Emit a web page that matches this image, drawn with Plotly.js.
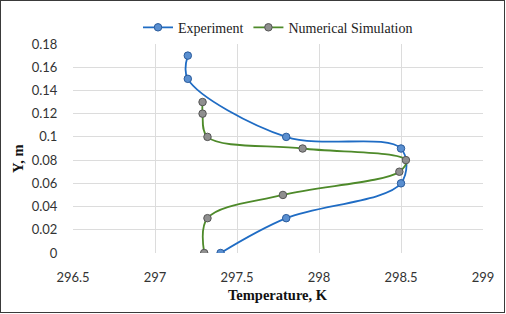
<!DOCTYPE html>
<html>
<head>
<meta charset="utf-8">
<script src="https://cdn.plot.ly/plotly-3.0.1.min.js"></script>
<style>
html,body{margin:0;padding:0;background:#fff;}
#wrap{position:relative;width:506px;height:314px;}
#chart{position:absolute;left:0;top:0;width:506px;height:314px;}
#frame{position:absolute;left:0;top:0;width:505px;height:313px;box-sizing:border-box;border:1px solid #3a3a3a;pointer-events:none;}
</style>
</head>
<body>
<div id="wrap"><div id="chart"></div><div id="frame"></div></div>
<script>
// Experiment series
var expT = [297.2, 297.2, 297.8, 298.5, 298.5, 297.8, 297.4];
var expY = [0.17, 0.15, 0.10, 0.09, 0.06, 0.03, 0];
// Numerical simulation series
var simT = [297.29, 297.29, 297.32, 297.9, 298.53, 298.49, 297.78, 297.32, 297.30];
var simY = [0.13, 0.12, 0.10, 0.09, 0.08, 0.07, 0.05, 0.03, 0];
// Axis ticks
var xTicks = [296.5, 297, 297.5, 298, 298.5, 299];
var yTicks = [0, 0.02, 0.04, 0.06, 0.08, 0.1, 0.12, 0.14, 0.16, 0.18];
var xTickText = ['296.5', '297', '297.5', '298', '298.5', '299'];
var yTickText = ['0', '0.02', '0.04', '0.06', '0.08', '0.1', '0.12', '0.14', '0.16', '0.18'];

var traces = [
  {
    x: expT, y: expY, name: 'Experiment', type: 'scatter', mode: 'lines+markers',
    line: {color: '#1f6cc4', width: 1.8, shape: 'spline', smoothing: 1},
    marker: {symbol: 'circle', size: 7.5, color: '#5a8fd0', line: {color: '#2a5b9c', width: 1}}
  },
  {
    x: simT, y: simY, name: 'Numerical Simulation', type: 'scatter', mode: 'lines+markers',
    line: {color: '#4e8a2a', width: 1.8, shape: 'spline', smoothing: 1},
    marker: {symbol: 'circle', size: 7.5, color: '#8f8f8f', line: {color: '#555555', width: 1}}
  }
];

var layout = {
  width: 506, height: 314,
  margin: {l: 73, r: 23, t: 34, b: 61},
  paper_bgcolor: '#ffffff', plot_bgcolor: '#ffffff',
  showlegend: true,
  legend: {
    orientation: 'h', x: 0.5, xanchor: 'center', y: 1.078, yanchor: 'middle',
    font: {family: 'Liberation Serif, Times New Roman, serif', size: 14, color: '#222'},
    itemwidth: 30, traceorder: 'normal'
  },
  xaxis: {
    range: [296.5, 299], tickvals: xTicks, ticktext: xTickText,
    showgrid: true, gridcolor: '#dcdcdc', gridwidth: 1, zeroline: false, showline: false,
    ticks: 'outside', ticklen: 12, tickcolor: 'rgba(0,0,0,0)',
    tickfont: {family: 'Lato, Open Sans, sans-serif', size: 13, color: '#333'},
    fixedrange: true
  },
  yaxis: {
    range: [0, 0.18], tickvals: yTicks, ticktext: yTickText,
    showgrid: true, gridcolor: '#dcdcdc', gridwidth: 1, zeroline: false, showline: false,
    ticks: 'outside', ticklen: 12, tickcolor: 'rgba(0,0,0,0)',
    tickfont: {family: 'Lato, Open Sans, sans-serif', size: 13, color: '#333'},
    fixedrange: true
  },
  annotations: [
    {text: '<b>Temperature, K</b>', xref: 'paper', yref: 'paper', x: 0.5, y: -0.2,
     xanchor: 'center', yanchor: 'middle', showarrow: false,
     font: {family: 'Liberation Serif, Times New Roman, serif', size: 14.5, color: '#111'}},
    {text: '<b>Y, m</b>', xref: 'paper', yref: 'paper', x: -0.134, y: 0.45,
     xanchor: 'center', yanchor: 'middle', showarrow: false, textangle: -90,
     font: {family: 'Liberation Serif, Times New Roman, serif', size: 14.5, color: '#111'}}
  ]
};

Plotly.newPlot('chart', traces, layout, {displayModeBar: false, staticPlot: true});
</script>
</body>
</html>
